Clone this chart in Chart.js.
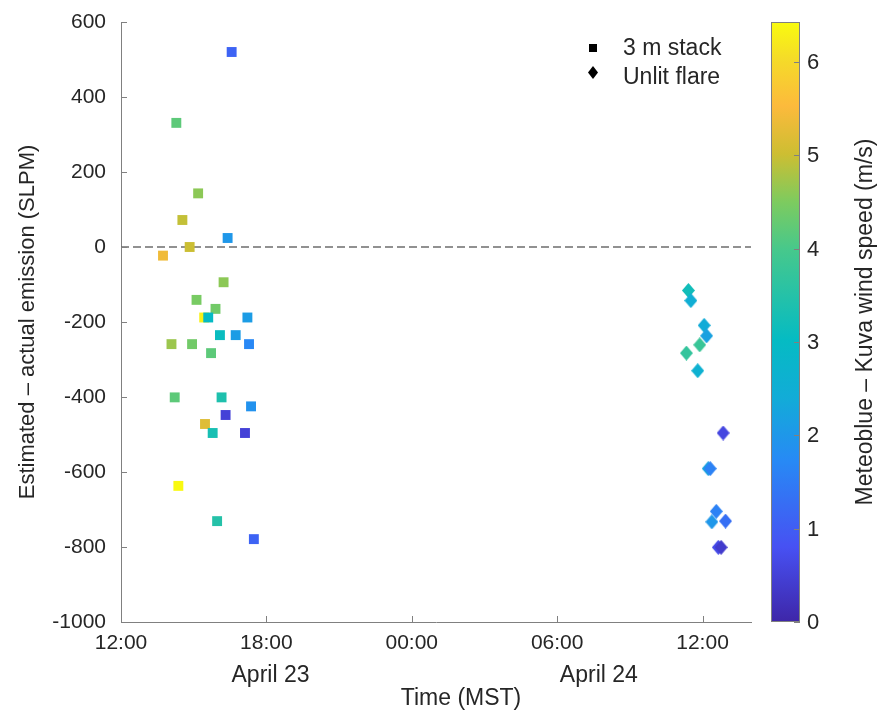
<!DOCTYPE html>
<html>
<head>
<meta charset="utf-8">
<script src="https://cdn.jsdelivr.net/npm/chart.js@4.4.1/dist/chart.umd.min.js"></script>
<style>
  body { margin: 0; background: #fff; }
  #wrap { width: 880px; height: 720px; }
</style>
</head>
<body>
<div id="wrap"><canvas id="myChart" width="880" height="720"></canvas></div>
<script>
'use strict';

// 3 m stack releases, April 23 (MST)
let stackTimes = ['16:34', '14:17', '15:11', '14:32', '14:50', '13:44', '16:24', '16:14', '15:07', '15:54',
  '15:26', '15:36', '17:13', '16:05', '16:44', '17:17', '14:05', '14:56', '15:43', '14:13',
  '16:09', '17:22', '16:19', '15:28', '15:47', '17:07', '14:22', '15:58', '17:29'];
let stackDiffs = [520, 331, 143, 72, 0, -23, 24, -94, -141, -165,
  -188, -188, -188, -235, -235, -259, -259, -259, -283, -401,
  -401, -425, -448, -472, -496, -496, -637, -731, -779];
let stackWind = [1.1, 4.2, 4.6, 4.95, 5.0, 5.4, 2.0, 4.6, 4.45, 4.4,
  6.3, 3.0, 2.1, 3.1, 2.1, 1.7, 4.7, 4.4, 4.2, 4.2,
  3.4, 1.9, 0.5, 5.2, 3.3, 0.5, 6.4, 3.5, 1.1];

// unlit flare releases, April 24 (MST)
let flareTimes = ['11:25', '11:31', '12:04', '12:10', '11:53', '11:20', '11:48', '12:51',
  '12:14', '12:19', '12:34', '12:23', '12:57', '12:39', '12:46'];
let flareDiffs = [-116, -143, -209, -237, -261, -283, -330, -496,
  -591, -591, -705, -733, -731, -801, -801];
let flareWind = [3.2, 2.5, 2.4, 2.2, 3.8, 3.7, 2.6, 0.6,
  2.2, 1.6, 1.6, 2.0, 1.3, 0.7, 0.4];

let xTickHours = [0, 6, 12, 18, 24];
let xTickLabels = ['12:00', '18:00', '00:00', '06:00', '12:00'];
let dayLabels = ['April 23', 'April 24'];
let dayLabelHours = [6.17, 19.72];
let yTicks = [-1000, -800, -600, -400, -200, 0, 200, 400, 600];
let windMin = 0;
let windMax = 6.43;
let windTicks = [0, 1, 2, 3, 4, 5, 6];

let textColor = '#262626';
let axisColor = '#808080';
let fontName = '"Liberation Sans", Arial, Helvetica, sans-serif';

// parula-like colormap
let parulaStops = [
  [0.00, 62, 38, 168],
  [0.125, 71, 81, 243],
  [0.27, 39, 138, 245],
  [0.375, 18, 172, 215],
  [0.47, 5, 187, 195],
  [0.62, 70, 200, 140],
  [0.70, 125, 203, 95],
  [0.78, 205, 190, 50],
  [0.86, 252, 186, 60],
  [0.94, 245, 220, 40],
  [1.00, 249, 251, 14]
];

function parula(t){
  t = Math.max(0, Math.min(1, t));
  for (let i = 1; i < parulaStops.length; i++){
    let a = parulaStops[i - 1];
    let b = parulaStops[i];
    if (t <= b[0]){
      let f = (t - a[0]) / (b[0] - a[0]);
      let r = Math.round(a[1] + (b[1] - a[1]) * f);
      let g = Math.round(a[2] + (b[2] - a[2]) * f);
      let bl = Math.round(a[3] + (b[3] - a[3]) * f);
      return `rgb(${r},${g},${bl})`;
    }
  }
  return 'rgb(249,251,14)';
}

function windColor(w){
  return parula((w - windMin) / (windMax - windMin));
}

// MATLAB diamonds are a bit taller than wide, so make little canvases
function diamondImage(color, w, h){
  let c = document.createElement('canvas');
  c.width = w;
  c.height = h;
  let g = c.getContext('2d');
  g.fillStyle = color;
  g.beginPath();
  g.moveTo(w / 2, 0);
  g.lineTo(w, h / 2);
  g.lineTo(w / 2, h);
  g.lineTo(0, h / 2);
  g.closePath();
  g.fill();
  return c;
}

// hours since 12:00 on April 23
function toHours(day, hhmm){
  let parts = hhmm.split(':');
  return day * 24 + Number(parts[0]) + Number(parts[1]) / 60 - 12;
}

let stackPoints = [];
for (let i = 0; i < stackTimes.length; i++){
  stackPoints.push({x: toHours(0, stackTimes[i]), y: stackDiffs[i]});
}
let flarePoints = [];
for (let i = 0; i < flareTimes.length; i++){
  flarePoints.push({x: toHours(1, flareTimes[i]), y: flareDiffs[i]});
}
let flareImages = flareWind.map(w => diamondImage(windColor(w), 13, 15));

// extra drawing: inward ticks, date row, x title, legend, colorbar
let extrasPlugin = {
  id: 'extras',
  afterDraw(chart){
    let ctx = chart.ctx;
    let xs = chart.scales.x;
    let ys = chart.scales.y;
    let area = chart.chartArea;
    ctx.save();

    ctx.strokeStyle = axisColor;
    ctx.lineWidth = 1;
    ctx.beginPath();
    yTicks.forEach(v => {
      let py = Math.round(ys.getPixelForValue(v)) + 0.5;
      ctx.moveTo(area.left, py);
      ctx.lineTo(area.left + 6, py);
    });
    xTickHours.forEach(v => {
      let px = Math.round(xs.getPixelForValue(v)) + 0.5;
      ctx.moveTo(px, area.bottom);
      ctx.lineTo(px, area.bottom - 6);
    });
    ctx.stroke();

    ctx.fillStyle = textColor;
    ctx.font = '23px ' + fontName;
    ctx.textAlign = 'center';
    ctx.textBaseline = 'alphabetic';
    dayLabels.forEach((lab, i) => {
      ctx.fillText(lab, xs.getPixelForValue(dayLabelHours[i]), 682);
    });
    ctx.fillText('Time (MST)', 461, 705);

    // legend
    ctx.fillStyle = '#000';
    ctx.fillRect(589, 44, 8, 8);
    ctx.drawImage(diamondImage('#000', 10, 13), 588, 66);
    ctx.fillStyle = textColor;
    ctx.textAlign = 'left';
    ctx.font = '23px ' + fontName;
    ctx.fillText('3 m stack', 623, 55);
    ctx.fillText('Unlit flare', 623, 84);

    // colorbar
    let cbLeft = 771, cbRight = 800, cbTop = area.top, cbBottom = area.bottom;
    let grad = ctx.createLinearGradient(0, cbBottom, 0, cbTop);
    parulaStops.forEach(s => grad.addColorStop(s[0], `rgb(${s[1]},${s[2]},${s[3]})`));
    ctx.fillStyle = grad;
    ctx.fillRect(cbLeft, cbTop, cbRight - cbLeft, cbBottom - cbTop);
    ctx.strokeStyle = axisColor;
    ctx.strokeRect(cbLeft + 0.5, cbTop + 0.5, cbRight - cbLeft - 1, cbBottom - cbTop - 1);
    ctx.fillStyle = textColor;
    ctx.font = '22px ' + fontName;
    ctx.textBaseline = 'middle';
    ctx.beginPath();
    windTicks.forEach(w => {
      let py = cbBottom - (w - windMin) / (windMax - windMin) * (cbBottom - cbTop);
      ctx.moveTo(cbRight - 6, Math.round(py) + 0.5);
      ctx.lineTo(cbRight, Math.round(py) + 0.5);
      ctx.fillText(String(w), 807, py + 1);
    });
    ctx.stroke();

    ctx.translate(866, (cbTop + cbBottom) / 2);
    ctx.rotate(-Math.PI / 2);
    ctx.textAlign = 'center';
    ctx.font = '23px ' + fontName;
    ctx.fillText('Meteoblue \u2013 Kuva wind speed (m/s)', 0, 0);
    ctx.restore();
  }
};

let ctx = document.getElementById('myChart').getContext('2d');
new Chart(ctx, {
  type: 'scatter',
  data: {
    datasets: [{
      label: '3 m stack',
      data: stackPoints,
      pointStyle: 'rect',
      pointRadius: 7,
      pointHoverRadius: 7,
      pointBorderWidth: 0,
      pointBackgroundColor: stackWind.map(windColor),
      order: 1
    }, {
      label: 'Unlit flare',
      data: flarePoints,
      pointStyle: flareImages,
      pointRadius: 7,
      pointHoverRadius: 7,
      pointBorderWidth: 0,
      order: 2
    }, {
      type: 'line',
      label: 'zero',
      data: [{x: 0, y: 0}, {x: 26, y: 0}],
      borderColor: '#6e6e6e',
      borderWidth: 1.5,
      borderDash: [8, 4],
      pointRadius: 0,
      order: 3
    }]
  },
  options: {
    responsive: false,
    animation: false,
    devicePixelRatio: 1,
    layout: {padding: {top: 22, right: 129, left: 0, bottom: 0}},
    plugins: {
      legend: {display: false},
      tooltip: {enabled: false}
    },
    scales: {
      x: {
        type: 'linear',
        min: 0,
        max: 26,
        afterFit: function(scale){ scale.height = 98; },
        afterBuildTicks: function(scale){
          scale.ticks = xTickHours.map(v => ({value: v}));
        },
        grid: {display: true, drawOnChartArea: false, drawTicks: false},
        border: {display: true, color: axisColor, width: 1},
        ticks: {
          padding: 9,
          color: textColor,
          maxRotation: 0,
          font: {size: 21, family: fontName},
          callback: function(value){
            let idx = xTickHours.indexOf(value);
            return idx >= 0 ? xTickLabels[idx] : '';
          }
        }
      },
      y: {
        min: -1000,
        max: 600,
        afterFit: function(scale){ scale.width = 121; },
        afterBuildTicks: function(scale){
          scale.ticks = yTicks.map(v => ({value: v}));
        },
        // invisible outside ticks give the label gap without padding the top
        grid: {display: true, drawOnChartArea: false, drawTicks: true, tickLength: 12, tickColor: 'rgba(0,0,0,0)'},
        border: {display: true, color: axisColor, width: 1},
        title: {
          display: true,
          text: 'Estimated \u2013 actual emission (SLPM)',
          color: textColor,
          font: {size: 22, family: fontName},
          padding: {top: 15, bottom: 0}
        },
        ticks: {
          padding: 3,
          color: textColor,
          font: {size: 21, family: fontName},
          callback: function(value){ return String(value); }
        }
      }
    }
  },
  plugins: [extrasPlugin]
});
</script>
</body>
</html>
